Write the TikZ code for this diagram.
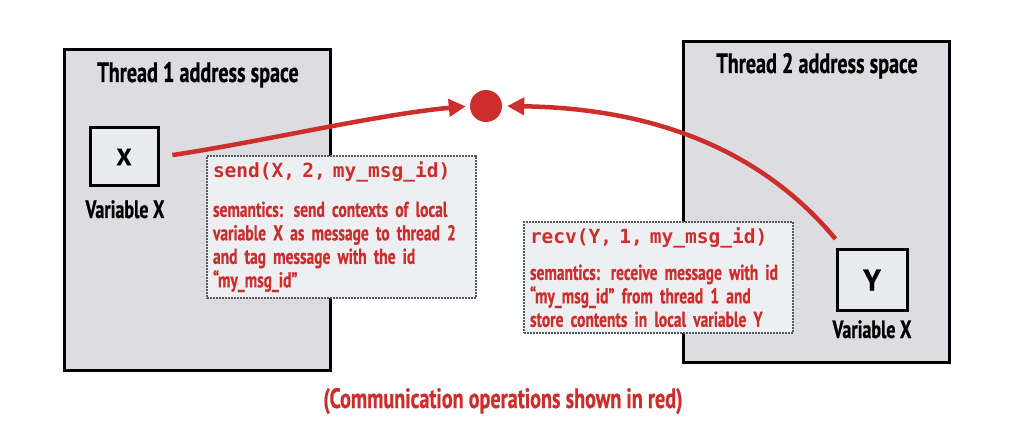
\documentclass[tikz,border=0pt]{standalone}
\usepackage{fontspec}
\setmainfont{PT Sans}[FakeStretch=0.72, BoldFeatures={FakeBold=0.6}]
\setmonofont{DejaVu Sans Mono}
\newfontfamily\varfont{PT Sans}[BoldFeatures={FakeBold=0.6}]
\usetikzlibrary{arrows.meta}

\definecolor{msgred}{RGB}{204,46,44}
\definecolor{spacegray}{RGB}{220,220,225}
\definecolor{boxgray}{RGB}{233,235,240}
\definecolor{opgray}{RGB}{237,239,243}
\definecolor{dashgray}{RGB}{85,90,95}

\newcommand{\opcodefont}{\fontsize{19.5}{22}\selectfont\ttfamily\bfseries}

\tikzset{
  space/.style={draw, line width=3pt, fill=spacegray, minimum width=266pt, minimum height=320pt},
  title/.style={anchor=base, font=\fontsize{28}{30}\selectfont\bfseries},
  varbox/.style={draw, line width=3pt, fill=boxgray, minimum width=68pt, minimum height=58pt},
  varname/.style={anchor=base, font=\fontsize{25}{28}\selectfont\bfseries},
  opbox/.style={draw=dashgray, line width=2pt, dash pattern=on 2pt off 1pt, fill=opgray,
    text width=257pt, inner sep=6pt, align=left, text=msgred,
    font=\fontsize{21.5}{23.5}\selectfont\bfseries},
  msgarrow/.style={line width=4.5pt, draw=msgred, -{Triangle[length=17pt,width=17pt]}},
}

\begin{document}
\begin{tikzpicture}[x=1pt, y=-1pt]
        \useasboundingbox (0,0) rectangle (1010,441);

        % Address spaces
        \node[space] (space1) at (197,210) {};
        \node[space] (space2) at (816,202) {};
        \node[title] (title1) at (198,82) {Thread 1 address space};
        \node[title] (title2) at (817,73) {Thread 2 address space};

        % Variables
        \node[varbox, font=\fontsize{24}{26}\varfont\bfseries] (xbox) at (124,157) {X};
        \node[varname] (xname) at (125,218) {Variable X};
        \node[varbox, minimum width=70pt, minimum height=61pt, font=\fontsize{30}{32}\varfont\bfseries] (ybox) at (872,280) {Y};
        \node[varname] (yname) at (872,338) {Variable X};

        % Message
        \node[circle, fill=msgred, minimum size=32pt, inner sep=0pt] (msg) at (486,106) {};

        % Operations
        \node[opbox, anchor=north west] (sendop) at (206,155)
          {{\opcodefont send(X, 2, my\_msg\_id)}\\[15.5pt]
           semantics:\enspace send contexts of local\\
           variable X as message to thread 2\\
           and tag message with the id\\
           ``my\_msg\_id''};
        \node[opbox, anchor=north west] (recvop) at (523,221)
          {{\opcodefont recv(Y, 1, my\_msg\_id)}\\[12.5pt]
           semantics:\enspace receive message with id\\
           ``my\_msg\_id'' from thread 1 and\\
           store contents in local variable Y};

        % Arrows to the message
        \draw[msgarrow, shorten <=13pt, shorten >=4pt] (xbox.east) .. controls (260,142) and (380,114) .. (msg.west);
        \draw[msgarrow, shorten >=5pt] ([yshift=9pt]ybox.north west) .. controls (755,142) and (640,108) .. (msg.east);

        % Caption
        \node[anchor=base, text=msgred, font=\fontsize{28}{30}\selectfont\bfseries] (caption) at (503,408) {(Communication operations shown in red)};
    \end{tikzpicture}
\end{document}
